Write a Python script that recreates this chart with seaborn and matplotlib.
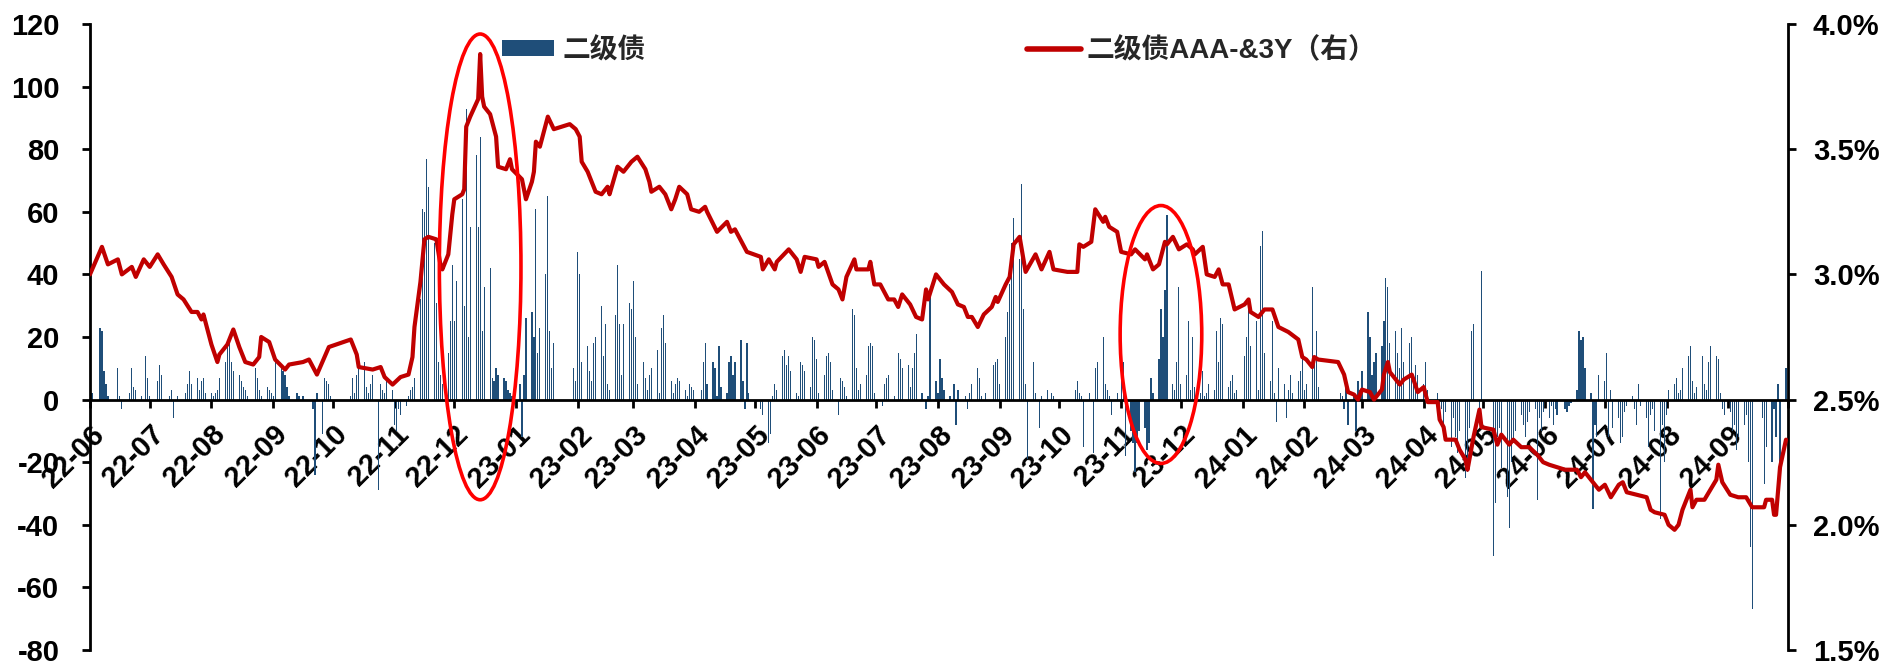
import matplotlib
matplotlib.use("Agg")
import matplotlib.pyplot as plt
import matplotlib.dates as mdates
from matplotlib.patches import Ellipse, Patch
from matplotlib.lines import Line2D
from matplotlib.font_manager import FontProperties
from matplotlib.ticker import FuncFormatter
import pandas as pd
import seaborn as sns

# ---------------- data ----------------
bar_label = "二级债"
line_label = "二级债AAA-&3Y（右）"

# daily net flow (left axis), one value per weekday from 2022-06-01, grouped by month
net_flow = [
    # 2022-06
    14, 2, 0, 23, 22, 9, 5, 1, 0, 0, 10, 1, -3, 0, 2, 10, 4, 3, 1, 0, 14, 7,
    # 2022-07
    1, 0, 6, 11, 8, 0, 1, 3, -6, 0, 1, 0, 2, 5, 9, 5, 7, 3, 6, 7, 2,
    # 2022-08
    2, 1, 2, 3, 7, 12, 17, 20, 12, 9, 8, 6, 4, 3, 1, 0, 10, 7, 3, 1, 4, 3, 2,
    # 2022-09
    1, 12, 10, 9, 8, 4, 1, 0, 2, 1, 0, 1, 0, 0, -3, -24, 2, -11, 7, 6, 5, 1,
    # 2022-10
    0, 0, 0, 0, 0, 1, 7, 2, 8, 10, 12, 4, 2, 5, 8, -29, 5, 3, 2, 7, 3,
    # 2022-11
    -8, -10, -3, -5, -2, 1, 3, 4, 7, 32, 61, 60, 77, 68, 50, 31, 12, 8, 5, 15, 25, 43,
    # 2022-12
    25, 38, 64, 30, 93, 20, 55, 78, 55, 84, 22, 36, 42, 7, 6, 10, 8, 7, 6, 3, 2, 1,
    # 2023-01
    0, 5, -12, 8, 26, 28, 20, 61, 15, 23, 40, 65, 22, 10, 18, 0, 0, 0, 0, 0, 10, 6,
    # 2023-02
    47, 40, 12, 17, 9, 6, 18, 20, 30, 14, 24, 5, 3, 27, 43, 24, 8, 24, 31, 29,
    # 2023-03
    38, 20, 5, 12, 7, 3, 8, 10, 16, 2, 23, 27, 18, 6, 2, 5, 7, 6, 3, 1, 5, 4, 3,
    # 2023-04
    0, 3, 12, 18, 5, 12, 10, 1, 17, 4, 2, 12, 14, 8, 12, 19, 6, -3, 18, 2,
    # 2023-05
    0, 0, 0, -3, -5, -14, -11, 1, 5, 3, 14, 16, 11, 14, 9, 2, 1, 12, 11, 9, 4, 20, 19,
    # 2023-06
    13, 2, 8, 14, 15, 12, 3, -5, 7, 6, 4, 1, 29, 27, 10, 3, 5, 8, 17, 18, 17, 2,
    # 2023-07
    0, -2, 5, 7, 8, 1, 0, 15, 13, 10, 11, 4, 10, 15, 21, 2, 0, -3, 1, 35, 6,
    # 2023-08
    2, 13, 7, 3, 1, 0, 5, -8, 3, 0, 1, -3, 2, 5, 10, 7, 1, 0, 2, 0, 11, 12, 13,
    # 2023-09
    5, 20, 28, 37, 50, 58, 45, 69, 29, 5, -19, 12, 2, 0, -9, 1, 3, 0, 2, 1, 0,
    # 2023-10
    0, 0, 0, 0, 0, 3, 6, 2, 1, -15, 2, 0, -17, 10, 12, 20, 5, 3, 1, -5, 2, 0,
    # 2023-11
    8, 12, -18, -10, -14, -23, -14, -10, -9, -16, -14, 7, 2, 13, 29, 20, 35, 59, 5, 3, 12, 36,
    # 2023-12
    5, 8, 25, 3, 20, 4, 2, 9, 1, 2, 5, 3, 22, 12, 26, 24, 4, 6, 8, 2, 3,
    # 2024-01
    0, 14, 20, 29, 17, 25, 3, 49, 54, 15, 6, 25, 2, -7, 10, 5, -6, 3, 8, 2, 6, 9, 14,
    # 2024-02
    3, 5, 36, 12, 22, 4, 0, 0, 0, 0, 0, 0, 2, 1, -3, 4, -8, 2, -10, 6, 3,
    # 2024-03
    9, 28, 20, 8, 12, 15, 17, 25, 39, 36, 18, 22, 15, 10, 23, 12, 18, 20, 5, 11, 8,
    # 2024-04
    5, 12, 3, 0, 0, 2, -5, -3, -8, -4, -15, -6, -12, -17, -10, -25, -23, -9, 22, 24, -3, 41,
    # 2024-05
    0, 0, 0, -50, -33, -12, -9, -22, -31, -41, -20, -14, -10, -5, -8, -12, -7, -4, -3, -32, -6, -10, -4,
    # 2024-06
    -6, -2, -8, -3, -5, 0, -3, -4, -2, -1, 3, 22, 19, 20, 10, 2, -35, -8, -12, 8,
    # 2024-07
    6, 15, -12, 3, -9, -6, -14, -12, -4, -2, 1, -3, -8, 5, -2, -6, -15, -5, -3, -10, -38, -8, -20,
    # 2024-08
    -5, 3, 5, 7, 2, 3, 10, 14, 17, 6, 2, 4, 14, 5, 3, 12, 17, 14, 13, 2, -3, -5,
    # 2024-09
    -4, -10, -8, -16, -12, -8, -5, -20, -47, -67, 0, 0, -6, -27, -15, -20, -3, -12, 5, -22, 10,
]
flow_dates = pd.bdate_range("2022-06-01", periods=len(net_flow))

# yield of 二级债 AAA- 3Y (right axis, %)
line_dates = [
    "2022-06-01", "2022-06-07", "2022-06-10", "2022-06-15", "2022-06-17", "2022-06-22", "2022-06-24", "2022-06-28",
    "2022-07-01", "2022-07-05", "2022-07-08", "2022-07-12", "2022-07-15", "2022-07-18", "2022-07-22", "2022-07-25",
    "2022-07-27", "2022-07-28", "2022-08-01", "2022-08-04", "2022-08-05", "2022-08-09", "2022-08-12", "2022-08-15",
    "2022-08-18", "2022-08-22", "2022-08-25", "2022-08-26", "2022-08-30", "2022-09-02", "2022-09-07", "2022-09-09",
    "2022-09-16", "2022-09-19", "2022-09-23", "2022-09-29", "2022-10-10", "2022-10-13", "2022-10-14", "2022-10-21",
    "2022-10-25", "2022-10-27", "2022-10-31", "2022-11-04", "2022-11-08", "2022-11-10", "2022-11-11", "2022-11-14",
    "2022-11-16", "2022-11-18", "2022-11-22", "2022-11-24", "2022-11-25", "2022-11-28", "2022-11-30", "2022-12-01",
    "2022-12-05", "2022-12-06", "2022-12-07", "2022-12-09", "2022-12-13", "2022-12-14", "2022-12-15", "2022-12-16",
    "2022-12-19", "2022-12-22", "2022-12-23", "2022-12-27", "2022-12-29", "2022-12-30", "2023-01-04", "2023-01-06",
    "2023-01-09", "2023-01-10", "2023-01-11", "2023-01-13", "2023-01-17", "2023-01-20", "2023-01-24", "2023-01-28",
    "2023-01-31", "2023-02-02", "2023-02-03", "2023-02-06", "2023-02-10", "2023-02-13", "2023-02-16", "2023-02-17",
    "2023-02-21", "2023-02-24", "2023-02-28", "2023-03-03", "2023-03-07", "2023-03-09", "2023-03-10", "2023-03-14",
    "2023-03-17", "2023-03-20", "2023-03-22", "2023-03-24", "2023-03-28", "2023-03-30", "2023-04-03", "2023-04-06",
    "2023-04-07", "2023-04-12", "2023-04-17", "2023-04-19", "2023-04-21", "2023-04-27", "2023-05-04", "2023-05-05",
    "2023-05-08", "2023-05-11", "2023-05-12", "2023-05-18", "2023-05-22", "2023-05-24", "2023-05-26", "2023-06-01",
    "2023-06-02", "2023-06-05", "2023-06-09", "2023-06-12", "2023-06-14", "2023-06-16", "2023-06-20", "2023-06-21",
    "2023-06-27", "2023-06-28", "2023-06-30", "2023-07-03", "2023-07-07", "2023-07-10", "2023-07-12", "2023-07-14",
    "2023-07-18", "2023-07-21", "2023-07-24", "2023-07-26", "2023-07-27", "2023-07-31", "2023-08-04", "2023-08-08",
    "2023-08-11", "2023-08-14", "2023-08-16", "2023-08-18", "2023-08-21", "2023-08-24", "2023-08-28", "2023-08-30",
    "2023-08-31", "2023-09-04", "2023-09-06", "2023-09-08", "2023-09-11", "2023-09-14", "2023-09-19", "2023-09-22",
    "2023-09-26", "2023-09-28", "2023-10-05", "2023-10-10", "2023-10-11", "2023-10-13", "2023-10-17", "2023-10-19",
    "2023-10-23", "2023-10-24", "2023-10-26", "2023-10-30", "2023-11-01", "2023-11-06", "2023-11-08", "2023-11-13",
    "2023-11-14", "2023-11-17", "2023-11-20", "2023-11-23", "2023-11-24", "2023-11-27", "2023-11-30", "2023-12-04",
    "2023-12-07", "2023-12-08", "2023-12-12", "2023-12-14", "2023-12-18", "2023-12-20", "2023-12-22", "2023-12-25",
    "2023-12-28", "2024-01-02", "2024-01-04", "2024-01-05", "2024-01-09", "2024-01-12", "2024-01-16", "2024-01-19",
    "2024-01-24", "2024-01-29", "2024-01-31", "2024-02-02", "2024-02-05", "2024-02-06", "2024-02-08", "2024-02-18",
    "2024-02-21", "2024-02-23", "2024-02-26", "2024-02-28", "2024-03-01", "2024-03-05", "2024-03-07", "2024-03-11",
    "2024-03-12", "2024-03-14", "2024-03-15", "2024-03-20", "2024-03-22", "2024-03-26", "2024-03-29", "2024-04-01",
    "2024-04-03", "2024-04-08", "2024-04-09", "2024-04-11", "2024-04-12", "2024-04-17", "2024-04-19", "2024-04-22",
    "2024-04-23", "2024-04-26", "2024-04-29", "2024-04-30", "2024-05-06", "2024-05-08", "2024-05-10", "2024-05-14",
    "2024-05-16", "2024-05-20", "2024-05-24", "2024-05-28", "2024-05-31", "2024-06-03", "2024-06-11", "2024-06-17",
    "2024-06-19", "2024-06-21", "2024-06-26", "2024-06-28", "2024-07-01", "2024-07-04", "2024-07-08", "2024-07-10",
    "2024-07-12", "2024-07-17", "2024-07-22", "2024-07-24", "2024-07-26", "2024-07-31", "2024-08-02", "2024-08-05",
    "2024-08-07", "2024-08-09", "2024-08-13", "2024-08-14", "2024-08-16", "2024-08-20", "2024-08-23", "2024-08-26",
    "2024-08-27", "2024-08-29", "2024-09-02", "2024-09-06", "2024-09-10", "2024-09-13", "2024-09-19", "2024-09-20",
    "2024-09-23", "2024-09-24", "2024-09-25", "2024-09-27", "2024-09-30",
]
line_rates = [
    3.00, 3.11, 3.04, 3.06, 3.00, 3.03, 2.99, 3.06,
    3.03, 3.08, 3.04, 2.99, 2.92, 2.90, 2.85, 2.85,
    2.82, 2.84, 2.72, 2.65, 2.68, 2.72, 2.78, 2.71,
    2.65, 2.64, 2.67, 2.75, 2.73, 2.66, 2.62, 2.64,
    2.65, 2.66, 2.60, 2.71, 2.74, 2.68, 2.63, 2.62,
    2.63, 2.59, 2.56, 2.59, 2.60, 2.67, 2.79, 2.97,
    3.14, 3.15, 3.14, 3.04, 3.02, 3.08, 3.24, 3.30,
    3.32, 3.34, 3.59, 3.63, 3.70, 3.88, 3.71, 3.67,
    3.64, 3.55, 3.43, 3.42, 3.46, 3.42, 3.38, 3.30,
    3.37, 3.41, 3.53, 3.51, 3.63, 3.58, 3.59, 3.60,
    3.58, 3.55, 3.45, 3.41, 3.33, 3.32, 3.35, 3.32,
    3.43, 3.41, 3.45, 3.47, 3.42, 3.37, 3.33, 3.35,
    3.32, 3.26, 3.30, 3.35, 3.32, 3.26, 3.25, 3.27,
    3.25, 3.17, 3.21, 3.17, 3.18, 3.09, 3.07, 3.02,
    3.06, 3.02, 3.05, 3.10, 3.06, 3.01, 3.07, 3.06,
    3.03, 3.05, 2.96, 2.94, 2.90, 2.99, 3.06, 3.02,
    3.02, 3.05, 2.96, 2.96, 2.90, 2.90, 2.87, 2.92,
    2.88, 2.83, 2.82, 2.94, 2.90, 3.00, 2.96, 2.93,
    2.88, 2.87, 2.83, 2.83, 2.79, 2.84, 2.87, 2.91,
    2.89, 2.96, 2.99, 3.12, 3.15, 3.01, 3.08, 3.02,
    3.09, 3.02, 3.01, 3.01, 3.12, 3.11, 3.13, 3.26,
    3.21, 3.23, 3.19, 3.17, 3.09, 3.08, 3.10, 3.06,
    3.08, 3.02, 3.04, 3.13, 3.12, 3.15, 3.10, 3.12,
    3.10, 3.08, 3.11, 3.00, 2.99, 3.02, 2.96, 2.96,
    2.86, 2.88, 2.90, 2.85, 2.83, 2.86, 2.86, 2.79,
    2.77, 2.74, 2.67, 2.66, 2.63, 2.67, 2.66, 2.65,
    2.60, 2.53, 2.52, 2.50, 2.54, 2.53, 2.50, 2.54,
    2.60, 2.65, 2.61, 2.56, 2.58, 2.60, 2.53, 2.55,
    2.49, 2.49, 2.42, 2.39, 2.34, 2.34, 2.30, 2.26,
    2.22, 2.35, 2.46, 2.39, 2.38, 2.32, 2.36, 2.32,
    2.34, 2.31, 2.31, 2.28, 2.25, 2.24, 2.22, 2.22,
    2.19, 2.21, 2.16, 2.14, 2.16, 2.11, 2.16, 2.17,
    2.13, 2.12, 2.11, 2.06, 2.05, 2.04, 2.00, 1.98,
    2.00, 2.06, 2.14, 2.07, 2.10, 2.10, 2.14, 2.18,
    2.24, 2.17, 2.12, 2.11, 2.11, 2.07, 2.07, 2.10,
    2.10, 2.04, 2.04, 2.23, 2.34,
]

left_ticks = [-80, -60, -40, -20, 0, 20, 40, 60, 80, 100, 120]
right_ticks = [1.5, 2.0, 2.5, 3.0, 3.5, 4.0]
x_start, x_end = "2022-06-01", "2024-10-01"

# highlighted periods (center date, center yield %, width days, height %)
highlight_1 = ("2022-12-14", 3.03, 41, 1.86)
highlight_2 = ("2023-11-21", 2.76, 41, 1.03)

# ---------------- style ----------------
sns.set_theme(style="ticks")
plt.rcParams["font.family"] = ["Liberation Sans", "Noto Sans CJK SC", "DejaVu Sans"]
plt.rcParams["font.weight"] = "bold"
plt.rcParams["axes.unicode_minus"] = False

BAR_COLOR = "#1F4E79"
LINE_COLOR = "#C00000"

W, H = 1883, 667
fig = plt.figure(figsize=(W / 100, H / 100), dpi=100)
ax = fig.add_axes([90 / W, 17 / H, 1698 / W, 626 / H])

# bars
ax.bar(flow_dates, net_flow, width=0.6, color=BAR_COLOR, linewidth=0, zorder=2)
ax.set_ylim(-80, 120)
ax.set_yticks(left_ticks)
ax.set_xlim(pd.Timestamp(x_start), pd.Timestamp(x_end))

month_ticks = pd.date_range("2022-06-01", "2024-10-01", freq="MS")
ax.set_xticks(month_ticks)
ax.set_xticklabels([d.strftime("%y-%m") if d < pd.Timestamp("2024-10-01") else "" for d in month_ticks])

for s in ["top", "right"]:
    ax.spines[s].set_visible(False)
ax.spines["bottom"].set_position(("data", 0))
ax.spines["bottom"].set_linewidth(2.0)
ax.spines["left"].set_linewidth(2.0)
ax.spines["bottom"].set_color("black")
ax.spines["left"].set_color("black")
ax.spines["bottom"].set_zorder(3)

ax.tick_params(axis="y", left=True, direction="out", length=6, width=2, pad=16,
               labelsize=21, colors="black")
ax.tick_params(axis="x", bottom=True, direction="out", length=6, width=2, pad=9,
               labelsize=21, colors="black")
for lbl in ax.get_xticklabels():
    lbl.set_rotation(45)
    lbl.set_ha("right")
    lbl.set_va("top")
    lbl.set_rotation_mode("anchor")
    lbl.set_fontweight("bold")
for lbl in ax.get_yticklabels():
    lbl.set_fontweight("bold")
ax.grid(False)

# line on right axis
ax2 = ax.twinx()
line_df = pd.DataFrame({"date": pd.to_datetime(line_dates), "rate": line_rates})
sns.lineplot(data=line_df, x="date", y="rate", ax=ax2, color=LINE_COLOR, linewidth=3.0, zorder=4)
ax2.set_xlabel("")
ax2.set_ylabel("")
ax.set_xlabel("")
ax.set_ylabel("")

for s in ["top", "left", "bottom"]:
    ax2.spines[s].set_visible(False)
ax2.spines["right"].set_linewidth(2.0)
ax2.spines["right"].set_color("black")

# highlight ellipses
for c_date, c_val, w_days, h_val in [highlight_1, highlight_2]:
    ell = Ellipse((mdates.date2num(pd.Timestamp(c_date)), c_val), w_days, h_val,
                  fill=False, edgecolor="#FF0000", linewidth=2.6, zorder=5)
    ax2.add_patch(ell)

ax2.set_ylim(1.5, 4.0)
ax2.set_yticks(right_ticks)
ax2.yaxis.set_major_formatter(FuncFormatter(lambda v, p: f"{v:.1f}%"))
ax2.tick_params(axis="y", right=True, direction="out", length=6, width=2, pad=12,
                labelsize=21, colors="black")
for lbl in ax2.get_yticklabels():
    lbl.set_fontweight("bold")
ax2.set_xlim(pd.Timestamp(x_start), pd.Timestamp(x_end))
if ax2.get_legend() is not None:
    ax2.get_legend().remove()

# legends
lfont = FontProperties(family=["Liberation Sans", "Noto Sans CJK SC"], weight="bold", size=20)
fig.legend(handles=[Patch(facecolor=BAR_COLOR, edgecolor="none")], labels=[bar_label],
           loc="center left", bbox_to_anchor=(502 / W, 1 - 51 / H), frameon=False, prop=lfont,
           handlelength=1.87, handleheight=0.5, handletextpad=0.3, borderpad=0, borderaxespad=0)
fig.legend(handles=[Line2D([], [], color=LINE_COLOR, linewidth=4)], labels=[line_label],
           loc="center left", bbox_to_anchor=(1027 / W, 1 - 51 / H), frameon=False, prop=lfont,
           handlelength=1.94, handletextpad=0.22, borderpad=0, borderaxespad=0)

fig.savefig("out.png", dpi=100)
